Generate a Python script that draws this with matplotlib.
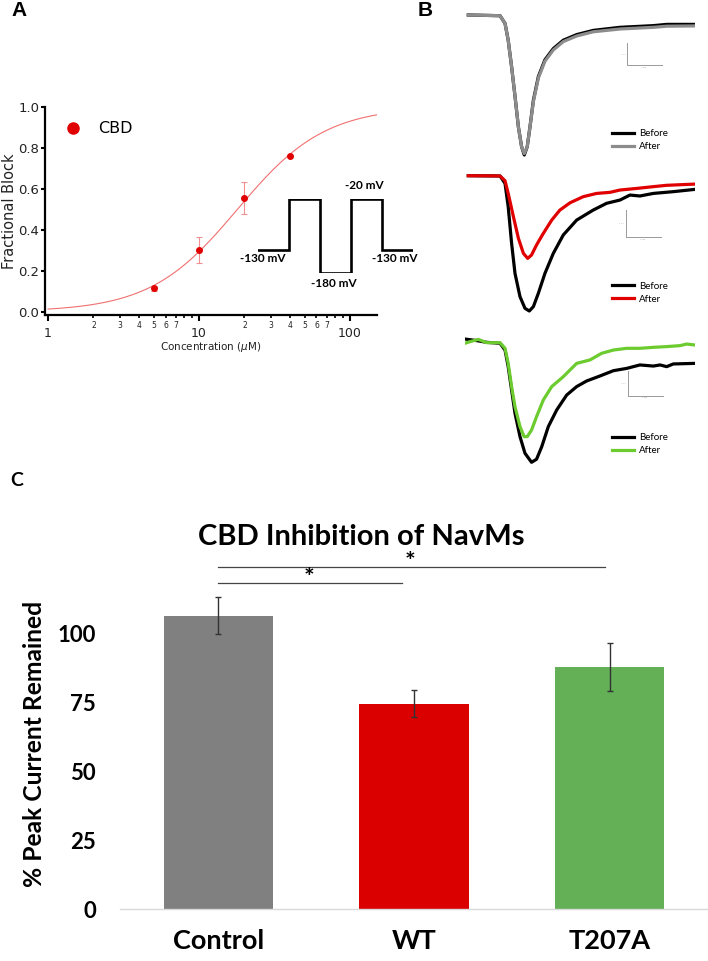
import numpy as np
import matplotlib
matplotlib.use('Agg')
import matplotlib.pyplot as plt
from matplotlib import ticker
from matplotlib.lines import Line2D

W, H = 708, 961
DPI = 100

# ---------------- Panel A data ----------------
conc = [5, 10, 20, 40]
frac_block = [0.114, 0.300, 0.555, 0.760]
frac_err = [0.012, 0.063, 0.080, 0.0]
ic50 = 18.0
hill_n = 1.5
fit_range = [1, 150]

protocol_t = [0, 1, 2, 3, 4, 5]
protocol_mv = [-130, -20, -180, -20, -130, -130]
protocol_labels = ['-130 mV', '-180 mV', '-20 mV', '-130 mV']

# ---------------- Panel B data (normalised currents, time in ms) ----------------
t1 = [0, 1.40, 1.62, 1.76, 1.91, 2.06, 2.21, 2.35, 2.47, 2.60, 2.72, 2.87, 3.09,
      3.38, 3.75, 4.19, 4.78, 5.51, 6.69, 8.16, 8.75, 10.0]
t1_before = [0, -0.005, -0.06, -0.18, -0.37, -0.58, -0.80, -0.94, -1.0, -0.94, -0.80,
             -0.61, -0.44, -0.32, -0.24, -0.18, -0.14, -0.11, -0.088, -0.076, -0.067, -0.067]
t1_after = [0, -0.005, -0.06, -0.18, -0.37, -0.58, -0.80, -0.94, -0.99, -0.94, -0.80,
            -0.62, -0.45, -0.33, -0.25, -0.19, -0.15, -0.12, -0.10, -0.088, -0.080, -0.078]

t2_b = [0, 1.40, 1.62, 1.76, 1.91, 2.06, 2.28, 2.50, 2.69, 2.87, 3.09, 3.38, 3.75, 4.19,
        4.78, 5.51, 6.10, 6.69, 7.13, 7.57, 8.16, 9.04, 10.0]
t2_before = [0, -0.002, -0.057, -0.229, -0.50, -0.722, -0.894, -0.980, -1.0, -0.968,
             -0.869, -0.722, -0.574, -0.438, -0.328, -0.254, -0.204, -0.180, -0.143,
             -0.150, -0.131, -0.118, -0.101]
t2_a = [0, 1.40, 1.62, 1.76, 1.99, 2.21, 2.43, 2.62, 2.79, 3.01, 3.31, 3.68, 4.04, 4.49,
        5.07, 5.66, 6.25, 6.69, 7.43, 8.16, 8.75, 10.0]
t2_after = [0, -0.002, -0.037, -0.131, -0.303, -0.463, -0.574, -0.611, -0.586, -0.512,
            -0.426, -0.328, -0.254, -0.200, -0.155, -0.131, -0.123, -0.106, -0.094,
            -0.081, -0.071, -0.062]

t3_b = [-0.15, 0.37, 0.81, 1.40, 1.62, 1.76, 1.91, 2.06, 2.28, 2.50, 2.79, 3.01, 3.24,
        3.53, 3.90, 4.34, 4.78, 5.22, 5.81, 6.40, 6.99, 7.57, 8.16, 8.46, 8.75, 9.04, 10.0]
t3_before = [0.008, -0.005, -0.019, -0.027, -0.082, -0.218, -0.409, -0.599, -0.790,
             -0.926, -1.0, -0.975, -0.872, -0.708, -0.572, -0.450, -0.381, -0.335,
             -0.294, -0.251, -0.232, -0.204, -0.213, -0.204, -0.218, -0.196, -0.191]
t3_a = [-0.15, 0.07, 0.44, 0.81, 1.10, 1.40, 1.62, 1.76, 1.91, 2.06, 2.28, 2.46, 2.60,
        2.79, 3.01, 3.31, 3.68, 4.19, 4.78, 5.37, 5.88, 6.40, 6.99, 7.57, 8.16, 8.75,
        9.34, 9.63, 10.0]
t3_after = [-0.027, -0.014, 0.005, -0.022, -0.022, -0.022, -0.068, -0.191, -0.381,
            -0.545, -0.708, -0.790, -0.790, -0.736, -0.627, -0.490, -0.381, -0.300,
            -0.191, -0.163, -0.109, -0.082, -0.068, -0.068, -0.060, -0.054, -0.046,
            -0.033, -0.041]

trace_labels = ['Before', 'After']

# ---------------- Panel C data ----------------
groups = ['Control', 'WT', 'T207A']
pct_remaining = [106.5, 74.6, 87.7]
pct_err = [6.7, 4.9, 8.7]
bar_colors = ['#808080', '#db0000', '#63b057']
yticks_c = [0, 25, 50, 75, 100]


def rect(x0, y0, x1, y1):
    return [x0 / W, 1 - y1 / H, (x1 - x0) / W, (y1 - y0) / H]


fig = plt.figure(figsize=(W / DPI, H / DPI), dpi=DPI)

# ---------------- Panel A ----------------
RED = '#e00000'
axA = fig.add_axes(rect(45, 106.7, 377, 315))
xf = np.logspace(np.log10(fit_range[0]), np.log10(fit_range[1]), 300)
axA.plot(xf, 1.0 / (1.0 + (ic50 / xf) ** hill_n), color='#f07070', lw=0.8)
axA.errorbar(conc, frac_block, yerr=frac_err, fmt='none', ecolor='#f09090',
             elinewidth=0.8, capsize=2.5, capthick=0.8)
axA.plot(conc, frac_block, 'o', color=RED, ms=4, ls='')
axA.set_xscale('log')
axA.set_xlim(0.955, 151)
axA.set_ylim(-0.016, 1.0)
for s in ['top', 'right']:
    axA.spines[s].set_visible(False)
for s in ['left', 'bottom']:
    axA.spines[s].set_linewidth(1.6)
axA.set_yticks([0.0, 0.2, 0.4, 0.6, 0.8, 1.0])
axA.yaxis.set_major_formatter(ticker.FormatStrFormatter('%.1f'))
axA.tick_params(axis='y', direction='out', length=3, width=1.5, pad=1, labelsize=9.5,
                labelcolor='#222222')
axA.xaxis.set_major_locator(ticker.FixedLocator([1, 10, 100]))
axA.xaxis.set_major_formatter(ticker.FixedFormatter(['1', '10', '100']))
axA.xaxis.set_minor_locator(ticker.LogLocator(base=10, subs=np.arange(2, 10)))


def minor_fmt(v, pos):
    m = v / 10 ** np.floor(np.log10(v) + 1e-9)
    m = int(round(m))
    return str(m) if 2 <= m <= 7 else ''


axA.xaxis.set_minor_formatter(ticker.FuncFormatter(minor_fmt))
axA.tick_params(axis='x', which='major', direction='out', length=4.3, width=1.5, pad=4,
                labelsize=9, labelcolor='#222222')
axA.tick_params(axis='x', which='minor', direction='out', length=2.5, width=1.2, pad=1.5,
                labelsize=5.5, labelcolor='#222222')
axA.set_xlabel('Concentration ($\\mu$M)', fontsize=7.5, labelpad=0, color='#222222')
axA.set_ylabel('Fractional Block', fontsize=10.5, labelpad=1, color='#222222')
legA = axA.legend(handles=[Line2D([], [], marker='o', color=RED, ls='', ms=8)],
                  labels=['CBD'], loc='upper left',
                  bbox_to_anchor=(59.9 / W, 1 - 121.5 / H), bbox_transform=fig.transFigure,
                  frameon=False, fontsize=11.5, handlelength=1.6, handletextpad=0.8,
                  borderpad=0, borderaxespad=0)

# protocol inset
axP = fig.add_axes(rect(258.3, 199, 412.7, 273.3))
axP.plot(protocol_t, protocol_mv, drawstyle='steps-post', color='black', lw=1.9,
         solid_joinstyle='miter')
axP.set_xlim(0, 5)
axP.set_ylim(-180, -20)
axP.axis('off')
lab_kw = dict(fontsize=8.5, fontweight='bold', family=['Lato', 'DejaVu Sans'],
              ha='center', va='center', clip_on=False)
axP.text(0.15, -149, protocol_labels[0], **lab_kw)
axP.text(2.43, -201, protocol_labels[1], **lab_kw)
axP.text(3.42, 10, protocol_labels[2], **lab_kw)
axP.text(4.41, -149, protocol_labels[3], **lab_kw)

# ---------------- Panel B ----------------
def trace_axes(base_px, min_px):
    depth = min_px - base_px
    ax = fig.add_axes(rect(464.9, base_px - 0.08 * depth, 695, min_px + 0.08 * depth))
    ax.set_xlim(-0.15, 10)
    ax.set_ylim(-1.08, 0.08)
    ax.axis('off')
    return ax


def trace_legend(ax, y_top_px):
    ax.legend(loc='upper left', bbox_to_anchor=(611.7 / W, 1 - y_top_px / H),
              bbox_transform=fig.transFigure, frameon=False,
              handlelength=2.3, handletextpad=0.5, labelspacing=0.4,
              borderpad=0, borderaxespad=0, prop={'family': ['Lato', 'DejaVu Sans'], 'size': 7})


LW = 2.3
ax1 = trace_axes(15, 155)
ax1.plot(t1, t1_before, color='black', lw=LW, label=trace_labels[0])
ax1.plot(t1, t1_after, color='#8c8c8c', lw=LW, label=trace_labels[1])
trace_legend(ax1, 129.5)

ax2 = trace_axes(175.7, 311)
ax2.plot(t2_b, t2_before, color='black', lw=LW, label=trace_labels[0])
ax2.plot(t2_a, t2_after, color='#e00000', lw=LW, label=trace_labels[1])
trace_legend(ax2, 281.8)

ax3 = trace_axes(340, 462.3)
ax3.plot(t3_b, t3_before, color='black', lw=LW, label=trace_labels[0])
ax3.plot(t3_a, t3_after, color='#6ccb2e', lw=LW, label=trace_labels[1])
trace_legend(ax3, 433.5)

# ---------------- Panel C ----------------
BF = ['Lato', 'DejaVu Sans']
axC = fig.add_axes(rect(119.7, 550.7, 708, 909.3))
xpos = np.arange(len(groups))
axC.bar(xpos, pct_remaining, width=0.558, color=bar_colors, yerr=pct_err,
        error_kw=dict(ecolor='#333333', elinewidth=1, capsize=2.5, capthick=1), zorder=2)
axC.set_xlim(-0.503, 2.502)
axC.set_ylim(0, 130)
for s in ['top', 'right', 'left']:
    axC.spines[s].set_visible(False)
axC.spines['bottom'].set_color('#d9d9d9')
axC.spines['bottom'].set_linewidth(1.0)
axC.set_yticks(yticks_c)
axC.set_xticks(xpos)
axC.set_xticklabels(groups)
axC.tick_params(axis='y', length=0, pad=17, labelsize=16)
axC.tick_params(axis='x', length=0, pad=14, labelsize=19.5)
for lab in axC.get_xticklabels() + axC.get_yticklabels():
    lab.set_family(BF)
    lab.set_fontweight('bold')
axC.plot([0, 1.975], [124.0, 124.0], color='#444444', lw=0.9, clip_on=False)
axC.plot([0, 0.94], [118.2, 118.2], color='#444444', lw=0.9, clip_on=False)
axC.text(0.98, 123.0, '*', ha='center', va='baseline', fontsize=18, fontweight='bold',
         family=BF, clip_on=False)
axC.text(0.466, 117.2, '*', ha='center', va='baseline', fontsize=18, fontweight='bold',
         family=BF, clip_on=False)

fig.text(361.7 / W, 1 - 536.7 / H, 'CBD Inhibition of NavMs', ha='center', va='center',
         fontsize=21, fontweight='bold', family=BF)
fig.text(35 / W, 1 - 744 / H, '% Peak Current Remained', ha='center', va='center',
         rotation=90, fontsize=17.7, fontweight='bold', family=BF)

# ---------------- overlay: panel letters and scale bars ----------------
ov = fig.add_axes([0, 0, 1, 1])
ov.set_xlim(0, W)
ov.set_ylim(H, 0)
ov.axis('off')
ov.patch.set_alpha(0)
ov.text(11, 11, 'A', fontsize=15, fontweight='bold', va='center', ha='left',
        family=['Liberation Sans', 'DejaVu Sans'])
ov.text(418, 11, 'B', fontsize=15, fontweight='bold', va='center', ha='left',
        family=['Liberation Sans', 'DejaVu Sans'])
ov.text(10, 481, 'C', fontsize=14, fontweight='bold', va='center', ha='left', family=BF)
for (xb, yt, yb) in [(627, 43, 65), (625.7, 210, 237.3), (627.7, 370.7, 396)]:
    ov.plot([xb, xb, xb + 35], [yt, yb, yb], color='#999999', lw=0.7)
    ov.text(xb - 1.5, (yt + yb) / 2, '1 nA', fontsize=1.5, color='#999999',
            ha='right', va='center')
    ov.text(xb + 17, yb + 1.5, '1 ms', fontsize=1.5, color='#999999', ha='center', va='top')

fig.savefig('out.png', dpi=DPI)
